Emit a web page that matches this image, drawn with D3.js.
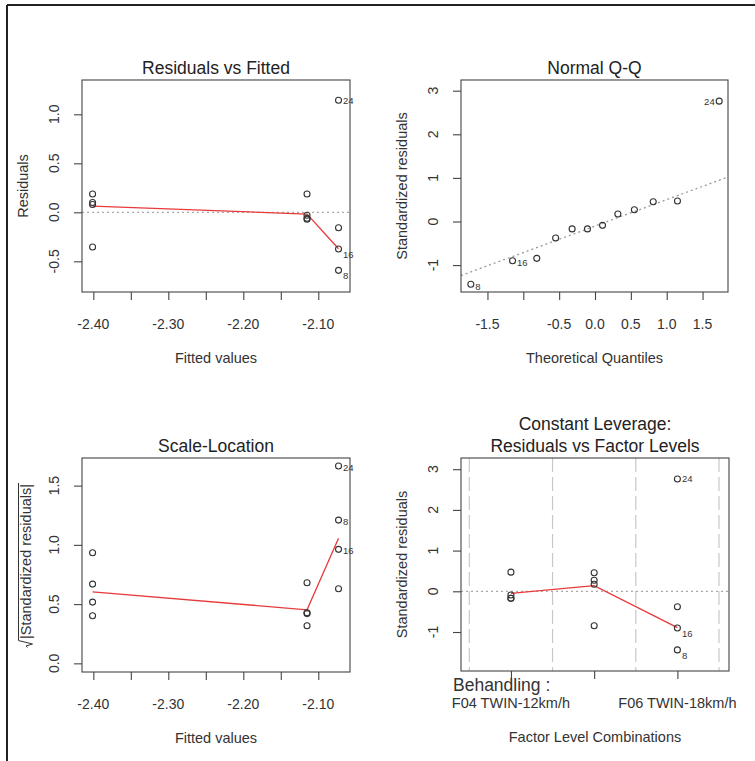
<!DOCTYPE html>
<html>
<head>
<meta charset="utf-8">
<script src="https://cdn.jsdelivr.net/npm/d3@7"></script>
<style>
  body { margin: 0; background: #fff; }
  svg { display: block; }
  text { font-family: "Liberation Sans", Arial, sans-serif; fill: #333; }
</style>
</head>
<body>
<svg id="chart" width="755" height="761"></svg>
<script>
// ---- data ----
const fittedLevels = [-2.401, -2.115, -2.073];
const residuals = [
  [0.187, 0.10, 0.08, -0.354],
  [0.187, -0.03, -0.06, -0.07],
  [1.143, -0.157, -0.374, -0.592]
];
const residualIds = [[null, null, null, null], [null, null, null, null], ["24", null, "16", "8"]];
const residualSmooth = [0.063, -0.018, -0.372];

const fittedTicks = [-2.40, -2.35, -2.30, -2.25, -2.20, -2.15, -2.10];
const fittedTickLabels = ["-2.40", "", "-2.30", "", "-2.20", "", "-2.10"];
const residualTicks = [-0.5, 0, 0.5, 1.0];
const residualTickLabels = ["-0.5", "0.0", "0.5", "1.0"];

const theoQuantiles = [-1.732, -1.150, -0.812, -0.549, -0.319, -0.105, 0.105, 0.319, 0.549, 0.812, 1.150, 1.732];
const sampleQuantiles = [-1.44, -0.90, -0.845, -0.378, -0.17, -0.17, -0.088, 0.172, 0.27, 0.454, 0.47, 2.76];
const qqIds = ["8", "16", null, null, null, null, null, null, null, null, null, "24"];
const qqLineX = [-1.87, 1.87];
const qqLineY = [-1.24, 1.03];
const qqXTicks = [-1.5, -1.0, -0.5, 0, 0.5, 1.0, 1.5];
const qqXTickLabels = ["-1.5", "", "-0.5", "0.0", "0.5", "1.0", "1.5"];
const stdTicks = [-1, 0, 1, 2, 3];
const stdTickLabels = ["-1", "0", "1", "2", "3"];

const sqrtStdResiduals = [
  [0.933, 0.669, 0.517, 0.402],
  [0.68, 0.427, 0.42, 0.317],
  [1.665, 1.209, 0.962, 0.63]
];
const sqrtIds = [[null, null, null, null], [null, null, null, null], ["24", "8", "16", null]];
const sqrtSmooth = [0.604, 0.452, 1.055];
const sqrtTicks = [0, 0.5, 1.0, 1.5];
const sqrtTickLabels = ["0.0", "0.5", "1.0", "1.5"];

const factorLevels = [1, 2, 3];
const factorTickLabels = ["F04 TWIN-12km/h", "", "F06 TWIN-18km/h"];
const factorName = "Behandling :";
const factorBreaks = [0.5, 1.5, 2.5, 3.5];
const levelStdResiduals = [
  [0.47, -0.09, -0.17, -0.17],
  [0.454, 0.27, 0.172, -0.845],
  [2.76, -0.378, -0.90, -1.44]
];
const levelIds = [[null, null, null, null], [null, null, null, null], ["24", null, "16", "8"]];
const levelSmooth = [-0.05, 0.137, -0.894];

// ---- drawing ----
const svg = d3.select("#chart");
const ink = "#444";
const red = "#e83a3a";

// outer border (top and left edges visible)
svg.append("line").attr("x1", 7).attr("x2", 755).attr("y1", 5).attr("y2", 5)
  .attr("stroke", "#222").attr("stroke-width", 2);
svg.append("line").attr("x1", 7).attr("x2", 7).attr("y1", 5).attr("y2", 761)
  .attr("stroke", "#222").attr("stroke-width", 2);

let clipCount = 0;
function makePanel(box, xDomain, yDomain) {
  const x = d3.scaleLinear().domain(xDomain).range([box.x0, box.x1]);
  const y = d3.scaleLinear().domain(yDomain).range([box.y1, box.y0]);
  const g = svg.append("g");
  const id = "clip" + (clipCount++);
  svg.append("clipPath").attr("id", id).append("rect")
    .attr("x", box.x0).attr("y", box.y0)
    .attr("width", box.x1 - box.x0).attr("height", box.y1 - box.y0);
  const inner = g.append("g").attr("clip-path", `url(#${id})`);
  return { x, y, g, inner, box };
}

function frame(p) {
  p.g.append("rect")
    .attr("x", p.box.x0).attr("y", p.box.y0)
    .attr("width", p.box.x1 - p.box.x0).attr("height", p.box.y1 - p.box.y0)
    .attr("fill", "none").attr("stroke", ink).attr("stroke-width", 1.1);
}

function xAxis(p, ticks, labels, labelY) {
  p.g.append("g").attr("transform", `translate(0,${p.box.y1})`)
    .call(d3.axisBottom(p.x).tickValues(ticks).tickSize(8).tickFormat(""))
    .call(a => a.select(".domain").remove())
    .call(a => a.selectAll("line").attr("stroke", ink).attr("stroke-width", 1.1));
  p.g.selectAll(null)
    .data(ticks.map((t, i) => ({ t, l: labels[i] })).filter(d => d.l))
    .join("text")
    .attr("x", d => p.x(d.t))
    .attr("y", labelY === undefined ? p.box.y1 + 36.5 : labelY)
    .attr("text-anchor", "middle")
    .style("font-size", "14px")
    .text(d => d.l);
}

function yAxis(p, ticks, labels) {
  p.g.append("g").attr("transform", `translate(${p.box.x0},0)`)
    .call(d3.axisLeft(p.y).tickValues(ticks).tickSize(8).tickFormat(""))
    .call(a => a.select(".domain").remove())
    .call(a => a.selectAll("line").attr("stroke", ink).attr("stroke-width", 1.1));
  const lx = p.box.x0 - 28;
  p.g.selectAll(null)
    .data(ticks.map((t, i) => ({ t, l: labels[i] })))
    .join("text")
    .attr("transform", d => `translate(${lx},${p.y(d.t)}) rotate(-90)`)
    .attr("text-anchor", "middle")
    .attr("dominant-baseline", "central")
    .style("font-size", "14px")
    .text(d => d.l);
}

function titles(p, title, xTitle, yTitle) {
  const cx = (p.box.x0 + p.box.x1) / 2;
  const lines = [].concat(title);
  lines.forEach((t, i) => {
    p.g.append("text")
      .attr("x", cx).attr("y", p.box.y0 - 6.5 - (lines.length - 1 - i) * 21.5)
      .attr("text-anchor", "middle").style("font-size", "17.5px").style("fill", "#222")
      .text(t);
  });
  p.g.append("text")
    .attr("x", cx).attr("y", p.box.y1 + 71)
    .attr("text-anchor", "middle").style("font-size", "14.5px")
    .text(xTitle);
  if (yTitle) {
    p.g.append("text")
      .attr("transform", `translate(${p.box.x0 - 59},${(p.box.y0 + p.box.y1) / 2}) rotate(-90)`)
      .attr("text-anchor", "middle").attr("dominant-baseline", "central")
      .style("font-size", "14.5px")
      .text(yTitle);
  }
}

function hRef(p, value) {
  p.inner.append("line")
    .attr("x1", p.box.x0).attr("x2", p.box.x1)
    .attr("y1", p.y(value)).attr("y2", p.y(value))
    .attr("stroke", "#aaa").attr("stroke-width", 1.2).attr("stroke-dasharray", "2,3");
}

function points(p, pts) {
  p.g.selectAll(null).data(pts).join("circle")
    .attr("cx", d => p.x(d.x)).attr("cy", d => p.y(d.y)).attr("r", 3)
    .attr("fill", "none").attr("stroke", "#333").attr("stroke-width", 1.1);
}

function ids(p, pts, place) {
  p.g.selectAll(null).data(pts.filter(d => d.id)).join("text")
    .attr("x", d => p.x(d.x) + (place(d).side === "left" ? -4.5 : 4.5))
    .attr("y", d => p.y(d.y) + place(d).dy)
    .attr("text-anchor", d => place(d).side === "left" ? "end" : "start")
    .attr("dominant-baseline", "central")
    .style("font-size", "9.5px")
    .text(d => d.id);
}

function smooth(p, xs, ys) {
  p.inner.append("path")
    .datum(xs.map((x, i) => [x, ys[i]]))
    .attr("d", d3.line().x(d => p.x(d[0])).y(d => p.y(d[1])))
    .attr("fill", "none").attr("stroke", red).attr("stroke-width", 1.3);
}

function grouped(xs, values, idList) {
  const out = [];
  values.forEach((vals, gi) => vals.forEach((v, j) => out.push({ x: xs[gi], y: v, id: idList[gi][j] })));
  return out;
}

const lowerRight = d => ({ side: "right", dy: d.id === "24" ? 0 : 5.5 });

// Panel 1: Residuals vs Fitted
{
  const p = makePanel({ x0: 82, x1: 350, y0: 80, y1: 292 }, [-2.4151, -2.0577], [-0.813, 1.35]);
  hRef(p, 0);
  smooth(p, fittedLevels, residualSmooth);
  const pts = grouped(fittedLevels, residuals, residualIds);
  points(p, pts);
  ids(p, pts, lowerRight);
  frame(p);
  xAxis(p, fittedTicks, fittedTickLabels);
  yAxis(p, residualTicks, residualTickLabels);
  titles(p, "Residuals vs Fitted", "Fitted values", "Residuals");
}

// Panel 2: Normal Q-Q
{
  const p = makePanel({ x0: 461, x1: 728, y0: 80, y1: 292 }, [-1.869, 1.855], [-1.617, 3.245]);
  p.inner.append("line")
    .attr("x1", p.x(qqLineX[0])).attr("x2", p.x(qqLineX[1]))
    .attr("y1", p.y(qqLineY[0])).attr("y2", p.y(qqLineY[1]))
    .attr("stroke", "#999").attr("stroke-width", 1.3).attr("stroke-dasharray", "2,3");
  const pts = theoQuantiles.map((t, i) => ({ x: t, y: sampleQuantiles[i], id: qqIds[i] }));
  points(p, pts);
  ids(p, pts, d => ({ side: d.id === "24" ? "left" : "right", dy: d.id === "24" ? 0 : 2 }));
  frame(p);
  xAxis(p, qqXTicks, qqXTickLabels);
  yAxis(p, stdTicks, stdTickLabels);
  titles(p, "Normal Q-Q", "Theoretical Quantiles", "Standardized residuals");
}

// Panel 3: Scale-Location
{
  const p = makePanel({ x0: 82, x1: 350, y0: 458, y1: 672 }, [-2.4151, -2.0577], [-0.073, 1.733]);
  smooth(p, fittedLevels, sqrtSmooth);
  const pts = grouped(fittedLevels, sqrtStdResiduals, sqrtIds);
  points(p, pts);
  ids(p, pts, d => ({ side: "right", dy: 1 }));
  frame(p);
  xAxis(p, fittedTicks, fittedTickLabels);
  yAxis(p, sqrtTicks, sqrtTickLabels);
  titles(p, "Scale-Location", "Fitted values", null);

  // y title: sqrt(|Standardized residuals|)
  const yt = p.g.append("g")
    .attr("transform", `translate(26,${(p.box.y0 + p.box.y1) / 2}) rotate(-90)`);
  const t = yt.append("text")
    .attr("x", 3.5).attr("text-anchor", "middle").attr("dominant-baseline", "central")
    .style("font-size", "14.5px")
    .text("|Standardized residuals|");
  const w = t.node().getComputedTextLength();
  const a = 3.5 - w / 2 - 1.5, b = 3.5 + w / 2 + 1, top = -7.5;
  yt.append("path")
    .attr("d", `M${a - 7},1.5 L${a - 5.5},0 L${a - 3.5},6.5 L${a},${top} L${b},${top}`)
    .attr("fill", "none").attr("stroke", "#333").attr("stroke-width", 1);
}

// Panel 4: Constant Leverage
{
  const p = makePanel({ x0: 461, x1: 729, y0: 458, y1: 671 }, [0.4, 3.62], [-1.958, 3.275]);
  p.inner.selectAll(null).data(factorBreaks).join("line")
    .attr("x1", d => p.x(d)).attr("x2", d => p.x(d))
    .attr("y1", p.box.y0).attr("y2", p.box.y1)
    .attr("stroke", "#c8c8c8").attr("stroke-width", 1.2).attr("stroke-dasharray", "14,5");
  hRef(p, 0);
  smooth(p, factorLevels, levelSmooth);
  const pts = grouped(factorLevels, levelStdResiduals, levelIds);
  points(p, pts);
  ids(p, pts, lowerRight);
  frame(p);
  xAxis(p, factorLevels, factorTickLabels, 707.5);
  p.g.selectAll("text").filter(function () { return this.textContent.startsWith("F0"); })
    .style("font-size", "14.5px");
  p.g.append("text").attr("x", 453).attr("y", 690.5)
    .style("font-size", "17.5px").text(factorName);
  yAxis(p, stdTicks, stdTickLabels);
  titles(p, ["Constant Leverage:", "Residuals vs Factor Levels"], "Factor Level Combinations", "Standardized residuals");
}
</script>
</body>
</html>
